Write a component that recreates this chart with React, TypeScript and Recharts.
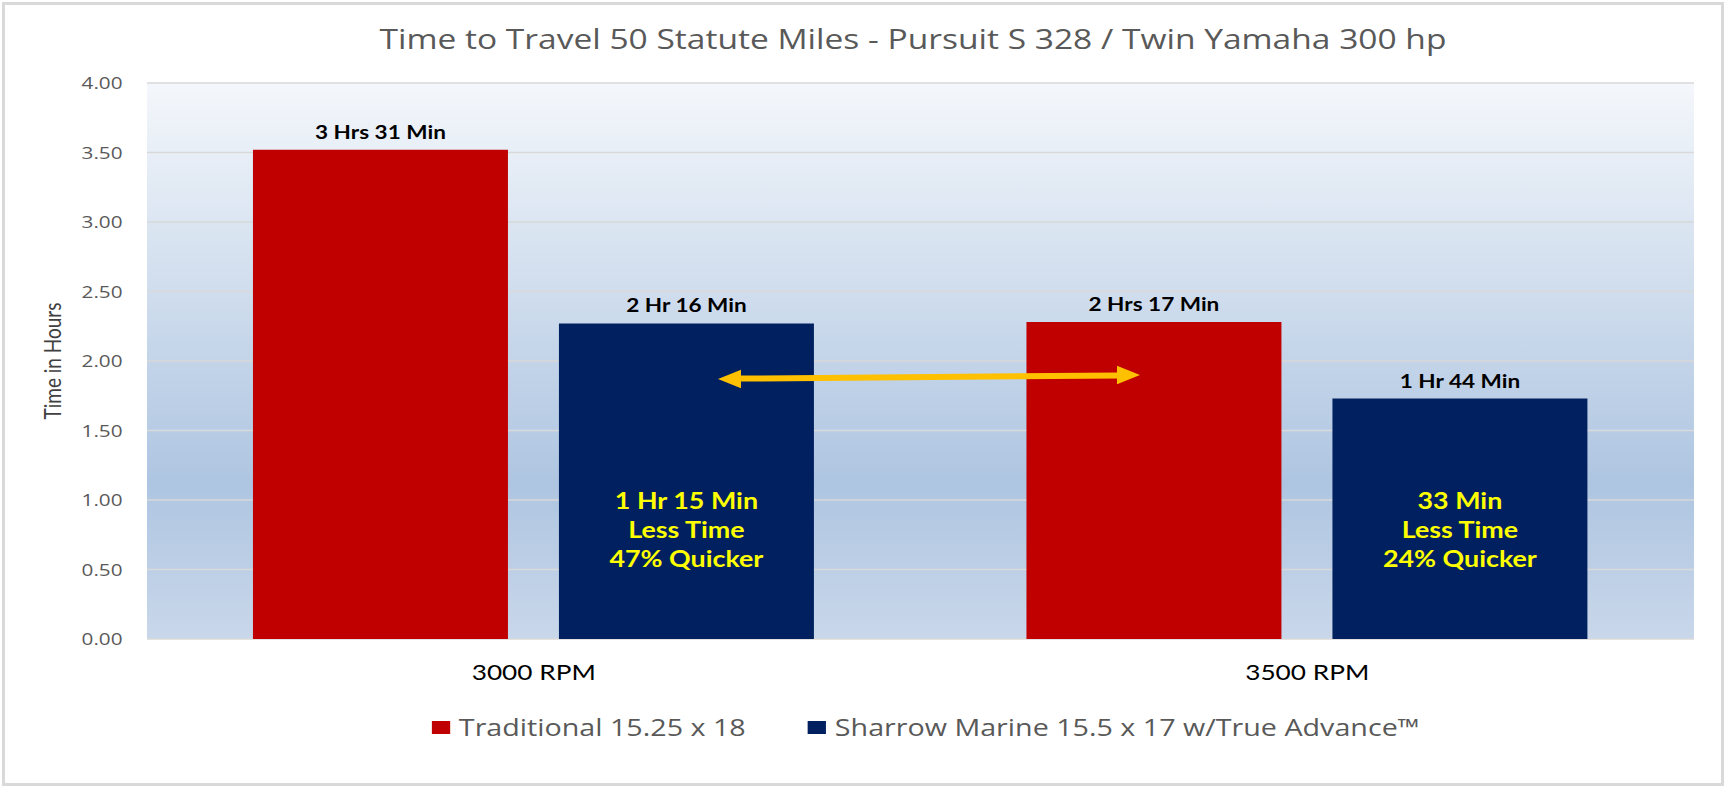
import { BarChart, Bar, XAxis, YAxis, CartesianGrid, Legend, LabelList } from "recharts";

const categories = ["3000 RPM", "3500 RPM"];
const traditional = [3.52, 2.28];
const sharrow = [2.27, 1.73];
const traditionalLabels = ["3 Hrs 31 Min", "2 Hrs 17 Min"];
const sharrowLabels = ["2 Hr 16 Min", "1 Hr 44 Min"];
const savingNotes = [
  ["1 Hr 15 Min", "Less Time", "47% Quicker"],
  ["33 Min", "Less Time", "24% Quicker"],
];
const yTicks = [0, 0.5, 1, 1.5, 2, 2.5, 3, 3.5, 4];
const seriesOrder = ["traditional", "sharrow"];

const data = categories.map((rpm, i) => ({
  rpm,
  traditional: traditional[i],
  sharrow: sharrow[i],
  tradLabel: traditionalLabels[i],
  sharLabel: sharrowLabels[i],
}));

// the source picture is stretched sideways, so the chart is drawn narrower and scaled in x
const SX = 1.22;
const W = 1727 / SX;
const H = 789;
const PLOT_LEFT = 147 / SX;
const PLOT_RIGHT = 1694 / SX;
const MARGIN_LEFT = 15;

const CALIBRI = "Lato, 'Open Sans', sans-serif";
const SEGOE = "'Open Sans', sans-serif";
const NOTE_LEVEL = 0.78; // hours, where the yellow note block sits

function SavingNote(props: any) {
  const { x, y, width, height, index, value } = props;
  const lines = savingNotes[index] || [];
  const bottom = y + height;
  const cy = bottom - height * (NOTE_LEVEL / value);
  const cx = x + width / 2;
  const lh = 29;
  return (
    <g>
      {lines.map((t: string, k: number) => (
        <text
          key={k}
          x={cx}
          y={cy + (k - (lines.length - 1) / 2) * lh}
          dy="0.36em"
          textAnchor="middle"
          fill="#ffff00"
          fontFamily={CALIBRI}
          fontWeight={700}
          fontSize={22}
        >
          {t}
        </text>
      ))}
    </g>
  );
}

function LegendContent(props: any) {
  const payload = [...(props.payload || [])].sort(
    (a: any, b: any) => seriesOrder.indexOf(a.dataKey) - seriesOrder.indexOf(b.dataKey)
  );
  return (
    <div
      style={{
        display: "flex",
        alignItems: "center",
        gap: 51,
        fontFamily: SEGOE,
        fontSize: 23.5,
        lineHeight: "32px",
        color: "#595959",
        whiteSpace: "nowrap",
      }}
    >
      {payload.map((p: any) => (
        <div key={p.value} style={{ display: "flex", alignItems: "center" }}>
          <span style={{ width: 14.5, height: 13, background: p.color, marginRight: 7.5, display: "inline-block" }} />
          <span>{p.value}</span>
        </div>
      ))}
    </div>
  );
}

export default function App() {
  return (
    <div style={{ position: "absolute", left: 0, top: 0, width: 1727, height: 789, background: "#fff", overflow: "hidden" }}>
      <div
        style={{
          position: "absolute",
          left: 2,
          top: 2,
          width: 1722,
          height: 784,
          boxSizing: "border-box",
          border: "3px solid #d9d9d9",
        }}
      />
      <div
        style={{
          position: "absolute",
          left: 0,
          top: 0,
          width: W,
          height: H,
          transform: `scaleX(${SX})`,
          transformOrigin: "0 0",
        }}
      >
        <svg style={{ position: "absolute", left: 0, top: 0 }} width={W} height={H}>
          <text
            x={913 / SX}
            y={49}
            textAnchor="middle"
            fontFamily={SEGOE}
            fontSize={27.5}
            fill="#595959"
          >
            Time to Travel 50 Statute Miles - Pursuit S 328 / Twin Yamaha 300 hp
          </text>
        </svg>
        <BarChart
          width={W}
          height={H}
          data={data}
          margin={{ top: 83, right: W - PLOT_RIGHT, left: MARGIN_LEFT, bottom: 90 }}
          barCategoryGap="13.7%"
          barGap={51 / SX}
        >
          <defs>
            <linearGradient id="plotBg" x1="0" y1="0" x2="0" y2="1">
              <stop offset="0%" stopColor="#f4f7fb" />
              <stop offset="72%" stopColor="#aec5e1" />
              <stop offset="100%" stopColor="#c9d7ea" />
            </linearGradient>
          </defs>
          <CartesianGrid vertical={false} stroke="#d9d9d9" strokeWidth={1.6} fill="url(#plotBg)" fillOpacity={1} />
          <XAxis
            dataKey="rpm"
            height={60}
            axisLine={false}
            tickLine={false}
            tickSize={0}
            tickMargin={26}
            tick={{ fontFamily: CALIBRI, fontSize: 21.5, fill: "#000" }}
          />
          <YAxis
            width={PLOT_LEFT - MARGIN_LEFT}
            domain={[0, 4]}
            ticks={yTicks}
            tickFormatter={(v: number) => v.toFixed(2)}
            axisLine={false}
            tickLine={false}
            tickSize={0}
            tickMargin={20}
            tick={{ fontFamily: SEGOE, fontSize: 17, fill: "#595959" }}
            label={{
              value: "Time in Hours",
              angle: -90,
              position: "insideLeft",
              offset: 28,
              style: { textAnchor: "middle", fontFamily: CALIBRI, fontSize: 19, fill: "#404040" },
            }}
          />
          <Legend
            layout="horizontal"
            verticalAlign="middle"
            align="center"
            wrapperStyle={{ top: 711, left: 432 / SX, width: "auto" }}
            content={<LegendContent />}
          />
          <Bar dataKey="traditional" name="Traditional 15.25 x 18" fill="#c00000" isAnimationActive={false}>
            <LabelList
              dataKey="tradLabel"
              position="top"
              offset={11}
              style={{ fontFamily: CALIBRI, fontWeight: 700, fontSize: 18.5, fill: "#000" }}
            />
          </Bar>
          <Bar dataKey="sharrow" name="Sharrow Marine 15.5 x 17 w/True Advance™" fill="#002060" isAnimationActive={false}>
            <LabelList
              dataKey="sharLabel"
              position="top"
              offset={11}
              style={{ fontFamily: CALIBRI, fontWeight: 700, fontSize: 18.5, fill: "#000" }}
            />
            <LabelList dataKey="sharrow" content={<SavingNote />} />
          </Bar>
        </BarChart>
      </div>
      <svg style={{ position: "absolute", left: 0, top: 0, pointerEvents: "none" }} width={1727} height={789}>
        <line x1={738} y1={378.6} x2={1120} y2={375.4} stroke="#ffc000" strokeWidth={6} />
        <polygon points="718,379 741,369.8 741,388.2" fill="#ffc000" />
        <polygon points="1140,375 1117,365.8 1117,384.2" fill="#ffc000" />
      </svg>
    </div>
  );
}
